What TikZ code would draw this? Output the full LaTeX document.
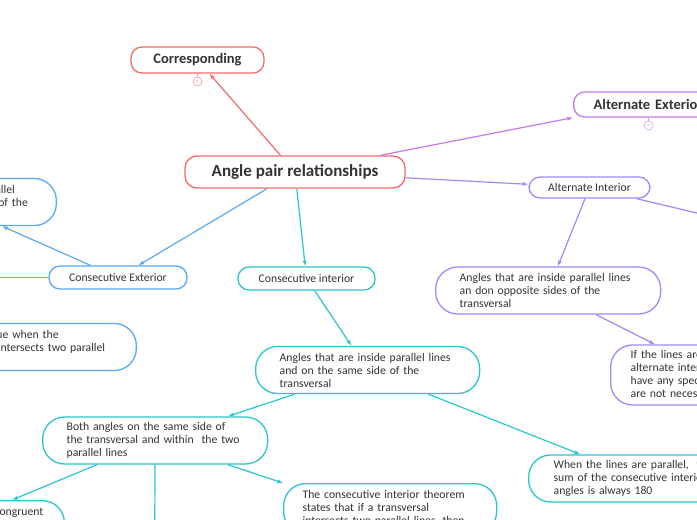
\documentclass[tikz,border=0pt]{standalone}
\usepackage{fontspec}
\setmainfont{Carlito}
\usepackage{tikz}
\usetikzlibrary{arrows.meta,positioning,calc}
\definecolor{racC}{HTML}{F26B6B}
\definecolor{altexC}{HTML}{C47AE8}
\definecolor{altinC}{HTML}{9D8CF6}
\definecolor{cextC}{HTML}{5AA9F2}
\definecolor{cintC}{HTML}{2BC5CF}
\definecolor{encre}{HTML}{333333}
\tikzset{
  titre/.style={rectangle, rounded corners=11pt, draw=#1, line width=1.3pt, fill=white,
                text=encre, font=\bfseries\fontsize{14.5}{16}\selectfont, inner sep=0pt},
  etiq/.style={rectangle, rounded corners=11pt, draw=#1, line width=1.3pt, fill=white,
               text=encre, font=\fontsize{11.7}{13}\selectfont, inner sep=0pt, minimum height=23pt},
  bulle/.style={rectangle, rounded corners=22pt, draw=#1, line width=1.3pt, fill=white,
                text=encre, align=left, font=\fontsize{11.7}{13}\selectfont,
                text width=177pt, inner xsep=24pt, minimum height=47pt},
  puce/.style={circle, draw=#1, line width=0.6pt, fill=white, text=#1,
               font=\fontsize{4}{4}\selectfont, inner sep=0pt, minimum size=9pt},
  arr/.style={-{Latex[length=2mm]}, line width=1.2pt, draw=#1},
}

\begin{document}
\begin{tikzpicture}[x=1pt, y=-1pt]
  \fill[white] (0,0) rectangle (697,520);
  \useasboundingbox (0,0) rectangle (697,520);
  \node[titre=racC, minimum width=220pt, minimum height=32pt, rounded corners=12pt,
        font=\bfseries\fontsize{17}{18}\selectfont] (racine) at (295,172) {Angle pair relationships};
  \node[titre=racC, minimum width=133pt, minimum height=26pt] (corr) at (197.5,60) {Corresponding};
  \node[puce=racC!70, below=3pt of corr] (corrn) {4};
  \node[titre=altexC, anchor=west, text width=130pt, inner xsep=20pt, minimum height=25pt]
    (altex) at (573,104.5) {Alternate Exterior};
  \node[puce=altexC!70, below=3pt of altex.south, xshift=-10pt] (altexn) {6};
  \node[etiq=altinC, minimum width=121pt, minimum height=21pt] (altin) at (589.5,187.5) {Alternate Interior};
  \node[bulle=altinC, anchor=west, inner xsep=24pt] (altopp) at (435,290.5)
    {Angles that are inside parallel lines\\ an don opposite sides of the\\ transversal};
  \node[bulle=altinC, anchor=west, text width=170pt, inner xsep=20pt, minimum height=60pt]
    (siligne) at (610,375) {If the lines are\\ alternate interior\\ have any special\\ are not necessarily};
  \coordinate (altind) at (760,228);

  \node[etiq=cextC, minimum width=138pt] (cext) at (118,277.5) {Consecutive Exterior};
  \node[bulle=cextC, anchor=east, text width=170pt] (cextang) at (57,202)
    {Angles that are outside parallel\\ lines and on the same side of the\\ transversal};
  \node[bulle=cextC, anchor=east, text width=170pt] (cextvrai) at (137,347)
    {It is only true when the\\ transversal intersects two parallel\\ lines};
  \coordinate (cextg) at (-60,277.5);

  \node[etiq=cintC, minimum width=137pt] (cint) at (306.5,278.5) {Consecutive interior};
  \node[bulle=cintC, anchor=west, text width=176pt] (cintang) at (255,370)
    {Angles that are inside parallel lines\\ and on the same side of the\\ transversal};
  \node[bulle=cintC, anchor=west] (deuxang) at (42,440.5)
    {Both angles on the same side of\\ the transversal and within~ the two\\ parallel lines};
  \node[bulle=cintC, anchor=west, inner xsep=25pt, text width=175pt] (somme) at (528,478.5)
    {When the lines are parallel,~ the\\ sum of the consecutive interior\\ angles is always 180};
  \node[bulle=cintC, anchor=north east, text width=, align=left, inner xsep=21pt, inner ysep=7pt,
        minimum height=0pt, text depth=25pt] (noncong) at (65,500) {They are not congruent};
  \node[bulle=cintC, anchor=north west, text width=175pt, inner xsep=19pt, inner ysep=7pt] (thm) at (283,483)
    {The consecutive interior theorem\\ states that if a transversal\\ intersects two parallel lines, then};
  \coordinate (deuxangb) at (154.5,580);

  \draw[racC!70, line width=0.6pt] (corr) -- (corrn);
  \draw[altexC!70, line width=0.6pt] (altex.south -| altexn) -- (altexn);
  \draw[arr=racC] (racine) -- (corr);
  \draw[arr=altexC] (racine) -- (altex.south west);
  \draw[arr=altinC] (racine) -- (altin);
  \draw[arr=cextC] (racine) -- (cext);
  \draw[arr=cintC] (racine) -- (cint);
  \draw[arr=altinC] (altin) -- (altopp);
  \draw[arr=altinC] (altin) -- (altind);
  \draw[arr=altinC] (altopp) -- (siligne);
  \draw[arr=cextC] (cext) -- (cextang);
  \draw[arr=cextC] (cext) -- (cextg);
  \draw[arr=cintC] (cint) -- (cintang);
  \draw[arr=cintC] (cintang) -- (deuxang);
  \draw[arr=cintC] (cintang) -- (somme);
  \draw[arr=cintC] (deuxang) -- ($(noncong.north east)+(-53,0)$);
  \draw[arr=cintC] (deuxang) -- (deuxangb);
  \draw[arr=cintC] (deuxang) -- (thm.north west);
\end{tikzpicture}
\end{document}
